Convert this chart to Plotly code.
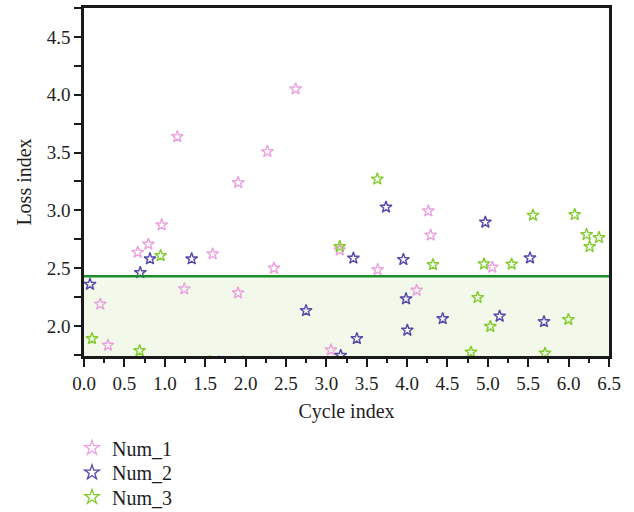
import plotly.graph_objects as go

# Data
num1_x = [0.202, 0.297, 0.665, 0.797, 0.962, 1.155, 1.242, 1.593, 1.675, 1.909, 1.907, 2.270, 2.352, 2.620, 3.058, 3.166, 3.636, 4.119, 4.263, 4.292, 5.055]
num1_y = [2.188, 1.833, 2.637, 2.707, 2.874, 3.637, 2.320, 2.623, 1.690, 3.240, 2.285, 3.508, 2.499, 4.050, 1.792, 2.657, 2.487, 2.309, 2.995, 2.785, 2.508]

num2_x = [0.074, 0.697, 0.817, 1.333, 2.749, 3.178, 3.335, 3.378, 3.739, 3.954, 3.987, 4.003, 4.441, 4.969, 5.146, 5.522, 5.695]
num2_y = [2.360, 2.461, 2.580, 2.580, 2.132, 1.745, 2.586, 1.890, 3.027, 2.574, 2.234, 1.963, 2.063, 2.897, 2.084, 2.588, 2.037]

num3_x = [0.099, 0.689, 0.949, 1.556, 1.969, 3.166, 3.632, 4.321, 4.791, 4.874, 4.952, 5.031, 5.295, 5.559, 5.708, 5.997, 6.075, 6.223, 6.260, 6.376]
num3_y = [1.890, 1.786, 2.608, 1.690, 1.690, 2.686, 3.270, 2.530, 1.773, 2.245, 2.536, 1.995, 2.534, 2.957, 1.764, 2.055, 2.963, 2.790, 2.686, 2.764]

series_names = ["Num_1", "Num_2", "Num_3"]
series_colors = ["#EBA3DF", "#5549AD", "#84CB30"]
threshold = 2.43

x_range = [0, 6.5]
y_range = [1.74, 4.75]
x_ticks = [0.0, 0.5, 1.0, 1.5, 2.0, 2.5, 3.0, 3.5, 4.0, 4.5, 5.0, 5.5, 6.0, 6.5]
y_ticks = [2.0, 2.5, 3.0, 3.5, 4.0, 4.5]

FONT = "Liberation Serif"
TXT = "#1e1e1e"

W, H = 634, 512
ML, MR, MT, MB = 84, 25, 8, 156
PH = H - MT - MB
PW = W - ML - MR

legend_ids = ["legend", "legend2", "legend3"]
legend_rows_px = [448, 472.5, 497]  # centre y of each legend row in pixels

fig = go.Figure()
for xs, ys, name, col, lid in zip([num1_x, num2_x, num3_x], [num1_y, num2_y, num3_y],
                                  series_names, series_colors, legend_ids):
    fig.add_trace(go.Scatter(
        x=xs, y=ys, mode="markers", name=name, showlegend=False,
        marker=dict(symbol="star-open", size=9, color=col, line=dict(width=1.4, color=col)),
    ))
    # legend entry with the larger legend symbol
    fig.add_trace(go.Scatter(
        x=[None], y=[None], mode="markers", name=name, legend=lid,
        marker=dict(symbol="star-open", size=11, color=col, line=dict(width=1.3, color=col)),
    ))

# shaded region below threshold and threshold line
fig.add_shape(type="rect", xref="paper", yref="y", x0=0, x1=1, y0=y_range[0], y1=threshold,
              fillcolor="#F2F9EA", line=dict(width=0), layer="below")
fig.add_shape(type="line", xref="paper", yref="y", x0=0, x1=1, y0=threshold, y1=threshold,
              line=dict(color="#1B8F2E", width=2.5), layer="above")

axis_common = dict(
    showline=True, linecolor="#1a1a1a", linewidth=2.5, mirror=True,
    ticks="outside", tickcolor="#1a1a1a", tickwidth=2, showgrid=False, zeroline=False,
    tickfont=dict(family=FONT, size=19, color=TXT),
    title_font=dict(family=FONT, size=20, color=TXT),
)

fig.update_xaxes(
    range=x_range, tickvals=x_ticks, tickformat=".1f", ticklen=8,
    minor=dict(ticks="outside", dtick=0.25, tick0=0, ticklen=4, tickwidth=2, tickcolor="#1a1a1a"),
    title_text="Cycle index", title_standoff=12, **axis_common,
)
fig.update_yaxes(
    range=y_range, tickvals=y_ticks, tickformat=".1f", ticklen=7,
    minor=dict(ticks="outside", dtick=0.25, tick0=2.0, ticklen=7, tickwidth=2, tickcolor="#1a1a1a"),
    title_text="Loss index", title_standoff=10, **axis_common,
)

legend_style = dict(xanchor="left", yanchor="middle", x=(72 - ML) / PW,
                    font=dict(family=FONT, size=20, color=TXT),
                    bgcolor="rgba(0,0,0,0)", itemwidth=30, itemsizing="trace")

layout_legends = {}
for lid, ypx in zip(legend_ids, legend_rows_px):
    layout_legends[lid] = dict(legend_style, y=(H - MB - ypx) / PH)

fig.update_layout(
    width=W, height=H,
    margin=dict(l=ML, r=MR, t=MT, b=MB, autoexpand=False),
    plot_bgcolor="white", paper_bgcolor="white",
    showlegend=True,
    **layout_legends,
)

fig.write_html("out.html")
